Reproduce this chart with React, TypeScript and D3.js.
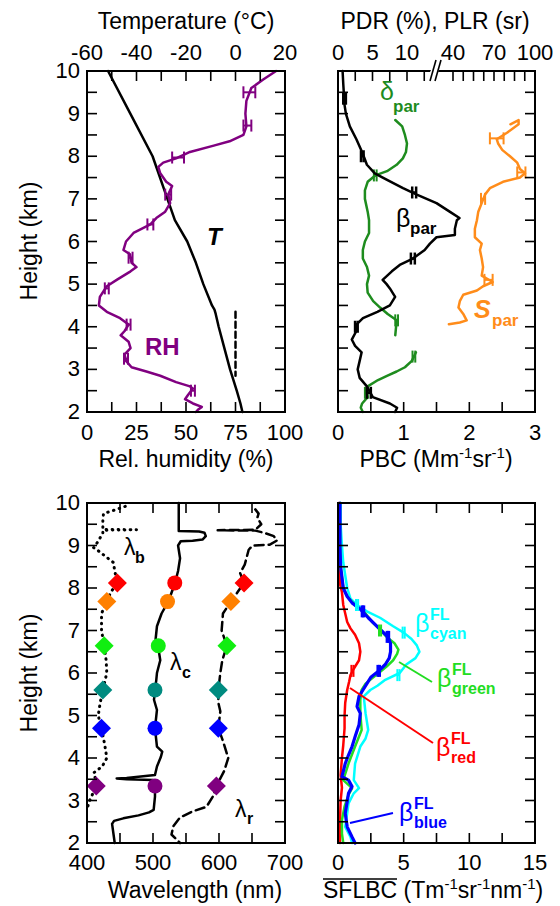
import React from 'react';
import * as d3 from 'd3';

type P = [number, number]; // [height km, value]
type E = [number, number, number]; // [height km, value, error]

const FONT = '"Liberation Sans", Arial, Helvetica, sans-serif';

// ---- top left: temperature and relative humidity
const temperature: P[] = [
  [10, -51.5], [9, -42.5], [8, -33.5], [7, -27.5], [6.5, -24.5], [6, -19.5], [5.5, -16],
  [5, -13], [4.5, -9.5], [4.4, -8.5], [4.3, -8.0], [4, -6.8], [3.5, -4.5], [3, -2.2],
  [2.5, 0.5], [2.2, 2], [2, 2.8],
];
const zeroLine: P[] = [[4.35, 0], [2.85, 0]];
const relHumidity: P[] = [
  [10, 95.5], [9.8, 89], [9.6, 83], [9.3, 80.5], [9.0, 80], [8.7, 80.5], [8.5, 79], [8.35, 72],
  [8.25, 64], [8.1, 52], [7.95, 45], [7.85, 38.5], [7.75, 36], [7.6, 37], [7.4, 40], [7.3, 43],
  [7.1, 41], [6.9, 42], [6.7, 39.5], [6.55, 35], [6.4, 32], [6.2, 23.5], [6.0, 19.7], [5.8, 18.4],
  [5.7, 21.7], [5.5, 22.5], [5.4, 25], [5.3, 22], [5.1, 15], [4.95, 10], [4.7, 6.5], [4.5, 6],
  [4.35, 10], [4.2, 16.7], [4.05, 21], [3.9, 19], [3.8, 17], [3.65, 21], [3.5, 22], [3.35, 19],
  [3.2, 19.7], [3.05, 22.5], [2.95, 30], [2.85, 37], [2.7, 45], [2.6, 52], [2.55, 53.5], [2.4, 51],
  [2.3, 49.5], [2.2, 53.5], [2.12, 58], [2.05, 56], [2.0, 55],
];
const rhErrors: E[] = [
  [9.5, 82, 3], [8.72, 81, 2], [7.97, 46, 3], [7.1, 41, 1.5], [6.4, 32, 1.5], [5.62, 22, 1],
  [4.9, 10, 1], [4.05, 21, 1], [3.25, 19.7, 1], [2.5, 53.5, 1],
];

// ---- top right: particle backscatter, depolarization, lidar ratio
const beta: P[] = [
  [10, 0.07], [9.7, 0.08], [9.2, 0.1], [9.0, 0.12], [8.7, 0.18], [8.4, 0.28], [8.05, 0.38],
  [7.8, 0.44], [7.6, 0.56], [7.45, 0.74], [7.25, 0.99], [7.1, 1.2], [6.9, 1.5], [6.7, 1.7],
  [6.55, 1.85], [6.5, 1.81], [6.3, 1.78], [6.15, 1.78], [6.1, 1.5], [5.95, 1.4], [5.8, 1.32],
  [5.6, 1.14], [5.45, 0.94], [5.3, 0.82], [5.1, 0.68], [5.0, 0.74], [4.9, 0.79], [4.7, 0.87],
  [4.5, 0.79], [4.35, 0.6], [4.2, 0.38], [4.05, 0.28], [3.9, 0.28], [3.7, 0.21], [3.55, 0.26],
  [3.4, 0.36], [3.2, 0.33], [3.0, 0.3], [2.8, 0.33], [2.6, 0.44], [2.35, 0.53], [2.2, 0.79],
  [2.1, 0.9], [2.0, 0.87],
];
const betaErrors: E[] = [
  [9.35, 0.1, 0.02], [8.0, 0.37, 0.02], [7.15, 1.16, 0.03], [5.6, 1.14, 0.03], [4.0, 0.28, 0.02],
  [2.45, 0.47, 0.03],
];
const deltaUpper: P[] = [
  [8.85, 8.3], [8.7, 9.3], [8.5, 9.7], [8.3, 10], [8.1, 9.85], [7.95, 9.4], [7.8, 8.5], [7.65, 7.1],
  [7.55, 5.4], [7.4, 4.3], [7.2, 3.9], [7.0, 3.9], [6.7, 4.3], [6.5, 4.5], [6.2, 4.5], [6.0, 3.9],
  [5.8, 3.6], [5.6, 3.6], [5.4, 4.2], [5.2, 4.5], [5.0, 4.2], [4.8, 4.3], [4.6, 5.1], [4.45, 6.1],
  [4.3, 7.2], [4.15, 8.5], [3.8, 8.3],
];
const deltaLower: P[] = [
  [3.4, 11.3], [3.3, 11.0], [3.2, 10.7], [3.05, 9.7], [2.95, 8.5], [2.85, 7.1], [2.75, 5.8],
  [2.6, 4.3], [2.5, 4.0], [2.35, 4.3], [2.2, 3.5], [2.1, 3.3], [2.0, 3.6],
];
const deltaErrors: E[] = [[7.55, 5.4, 0.2], [4.15, 8.5, 0.2], [3.3, 11.0, 0.2], [2.45, 4.1, 0.2]];
const lidarRatio: P[] = [
  [8.75, 82], [8.85, 88], [8.75, 88], [8.55, 79.5], [8.4, 72], [8.3, 73], [8.15, 76], [8.0, 81.7],
  [7.85, 87], [7.7, 89], [7.6, 92.7], [7.5, 89], [7.4, 76.6], [7.25, 67], [7.1, 63.4], [6.9, 61],
  [6.7, 58.5], [6.5, 57.5], [6.3, 56], [6.1, 56], [5.95, 61], [5.8, 59.7], [5.6, 61], [5.4, 62],
  [5.2, 61], [5.05, 69], [4.95, 62], [4.85, 57.5], [4.75, 47.5], [4.6, 45], [4.45, 44], [4.3, 47.5],
  [4.15, 50], [4.1, 45], [4.06, 37],
];
const lidarErrors: E[] = [[8.42, 72, 5], [7.62, 90, 3], [7.0, 62, 1.5], [5.1, 66, 3]];

// ---- bottom left: wavelengths
const lambdaB: P[] = [
  [9.92, 458], [9.85, 445], [9.75, 425], [9.6, 424], [9.38, 424], [9.37, 475], [9.36, 424],
  [9.3, 424], [9.1, 417], [8.95, 410], [8.9, 415], [8.6, 440], [8.4, 442], [8.12, 446], [7.9, 436],
  [7.68, 430], [7.4, 422], [7.0, 422], [6.64, 426], [6.3, 429], [6.0, 430], [5.6, 424], [5.3, 420],
  [5.0, 417], [4.7, 422], [4.3, 427], [4.0, 430], [3.8, 423], [3.65, 410], [3.5, 413], [3.34, 414],
  [3.0, 404], [2.8, 400],
];
const lambdaC: P[] = [
  [10, 539], [9.34, 539], [9.33, 570], [9.3, 578], [9.22, 580], [9.14, 575], [9.11, 560],
  [9.1, 542], [9.0, 538], [8.7, 541], [8.4, 538], [8.1, 533], [7.8, 526], [7.65, 522], [7.4, 513],
  [7.1, 506], [6.8, 504], [6.6, 508], [6.3, 511], [6.0, 506], [5.84, 505], [5.6, 503],
  [5.37, 501.5], [5.13, 506], [4.7, 503], [4.27, 506], [4.15, 514], [4.03, 512], [3.8, 506],
  [3.6, 503], [3.53, 460], [3.52, 445], [3.5, 460], [3.48, 500], [3.34, 503], [3.09, 503],
  [2.78, 501], [2.72, 494], [2.65, 478], [2.58, 455], [2.52, 441], [2.45, 438], [2.0, 442],
];
const lambdaR: P[] = [
  [9.85, 655], [9.75, 660], [9.65, 658], [9.5, 664], [9.37, 655], [9.36, 598], [9.35, 655],
  [9.3, 668], [9.22, 683], [9.12, 688], [9.02, 677], [9.0, 651], [8.9, 645], [8.55, 639], [8.35, 632],
  [8.12, 638], [7.9, 628], [7.68, 618], [7.4, 606], [7.0, 604], [6.64, 612], [6.3, 605], [6.0, 602],
  [5.6, 599], [5.3, 599], [5.1, 602], [4.7, 599], [4.4, 606], [4.0, 614], [3.7, 608], [3.34, 596],
  [3.1, 591], [2.85, 581], [2.75, 561], [2.6, 541], [2.4, 531], [2.2, 528], [2.0, 541],
];
const markerHeights = [8.12, 7.68, 6.64, 5.6, 4.7, 3.34];
const markerColors = ['#ff0000', '#ff8000', '#11ee11', '#008b80', '#0000ff', '#800080'];
const markerBlueNm = [446, 430, 426, 424, 422, 414];
const markerCentreNm = [533, 522, 508, 503, 503, 503];
const markerRedNm = [638, 618, 612, 599, 599, 596];

// ---- bottom right: spectral fluorescence backscatter
const flCyan: P[] = [
  [10, 0.2], [9.5, 0.2], [9.0, 0.3], [8.6, 0.4], [8.3, 0.55], [8.0, 0.7], [7.75, 0.95], [7.6, 1.45],
  [7.45, 2.2], [7.3, 3.2], [7.1, 4.2], [6.95, 5.0], [6.8, 5.6], [6.65, 6.0], [6.5, 6.2], [6.35, 5.9],
  [6.2, 5.2], [6.0, 4.7], [5.84, 3.6], [5.7, 3.0], [5.6, 2.46], [5.45, 1.96], [5.05, 2.1],
  [4.66, 2.3], [4.46, 2.1], [4.27, 1.7], [3.87, 1.3], [3.48, 1.2], [3.29, 1.6], [3.17, 1.2],
  [2.93, 0.8], [2.7, 0.7], [2.38, 0.55], [2.14, 0.95], [2.0, 1.07],
];
const flGreen: P[] = [
  [10, 0.15], [9.0, 0.15], [8.5, 0.2], [8.0, 0.4], [7.8, 0.7], [7.6, 1.3], [7.4, 2.1], [7.2, 2.6],
  [7.05, 3.1], [6.85, 3.7], [6.7, 4.3], [6.55, 4.6], [6.45, 4.5], [6.3, 4.2], [6.15, 3.7], [6.0, 3.1],
  [5.85, 2.5], [5.75, 2.1], [5.6, 1.8], [5.37, 1.7], [5.05, 1.7], [4.66, 1.8], [4.27, 1.3],
  [3.87, 0.8], [3.48, 0.4], [3.29, 1.07], [3.13, 0.8], [2.86, 0.5], [2.54, 0.3], [2.22, 0.3],
  [2.0, 0.4],
];
const flBlue: P[] = [
  [10, 0.15], [9.0, 0.15], [8.5, 0.2], [8.0, 0.4], [7.8, 0.7], [7.65, 1.07], [7.5, 1.7], [7.3, 2.3],
  [7.15, 2.8], [7.0, 3.3], [6.85, 3.8], [6.7, 4.0], [6.5, 4.0], [6.35, 3.9], [6.2, 3.6], [6.05, 3.1],
  [5.9, 2.5], [5.75, 2.2], [5.6, 1.9], [5.45, 1.6], [5.21, 1.45], [5.05, 1.7], [4.78, 1.6],
  [4.5, 1.3], [4.27, 1.07], [4.07, 0.8], [3.87, 0.55], [3.56, 0.3], [3.48, 0.8], [3.33, 1.07],
  [3.17, 0.8], [2.97, 0.7], [2.7, 0.55], [2.38, 0.7], [2.14, 1.07], [2.0, 1.3],
];
const flRed: P[] = [
  [10, 0.05], [8.5, 0.1], [8.1, 0.15], [7.9, 0.3], [7.6, 0.4], [7.4, 0.55], [7.2, 0.7], [7.05, 0.95],
  [6.9, 1.3], [6.7, 1.6], [6.5, 1.7], [6.3, 1.6], [6.1, 1.2], [5.95, 0.95], [5.8, 0.85], [5.6, 0.7],
  [5.3, 0.55], [5.0, 0.5], [4.7, 0.5], [4.3, 0.4], [4.0, 0.3], [3.6, 0.2], [3.3, 0.3], [3.0, 0.2],
  [2.5, 0.15], [2.0, 0.15],
];
const flCyanErr: E[] = [[7.6, 1.45, 0.08], [6.95, 5.0, 0.08], [5.95, 4.6, 0.08]];
const flBlueErr: E[] = [[7.45, 1.9, 0.06], [6.85, 3.8, 0.06], [6.05, 3.1, 0.06]];
const flGreenErr: E[] = [[7.0, 3.2, 0.08]];
const flRedErr: E[] = [[6.05, 1.1, 0.08]];

// ---- ticks
const heightTicks = [2, 2.5, 3, 3.5, 4, 4.5, 5, 5.5, 6, 6.5, 7, 7.5, 8, 8.5, 9, 9.5, 10];
const heightLabels = [2, 3, 4, 5, 6, 7, 8, 9, 10];
const tempTicks = [-60, -50, -40, -30, -20, -10, 0, 10, 20];
const tempLabels = [-60, -40, -20, 0, 20];
const rhTicks = [0, 12.5, 25, 37.5, 50, 62.5, 75, 87.5, 100];
const rhLabels = [0, 25, 50, 75, 100];
const pdrTicks = [0, 2.5, 5, 7.5, 10, 12.5];
const pdrLabels = [0, 5, 10];
const plrTicks = [40, 47.5, 55, 62.5, 70, 77.5, 85, 92.5, 100];
const plrLabels = [40, 70, 100];
const pbcTicks = [0, 0.5, 1, 1.5, 2, 2.5, 3];
const pbcLabels = [0, 1, 2, 3];
const wlTicks = [400, 450, 500, 550, 600, 650, 700];
const wlLabels = [400, 500, 600, 700];
const flTicks = [0, 2.5, 5, 7.5, 10, 12.5, 15];
const flLabels = [0, 5, 10, 15];

const yTop = d3.scaleLinear().domain([2, 10]).range([412, 71]);
const yBot = d3.scaleLinear().domain([2, 10]).range([843, 503]);
const xTemp = d3.scaleLinear().domain([-60, 20]).range([87, 285]);
const xRH = d3.scaleLinear().domain([0, 100]).range([87, 285]);
const xPBC = d3.scaleLinear().domain([0, 3]).range([338, 535]);
const xPDR = d3.scaleLinear().domain([0, 10]).range([338, 407]);
const xPLR = d3.scaleLinear().domain([40, 100]).range([453, 535]);
const xWL = d3.scaleLinear().domain([400, 700]).range([87, 285]);
const xFL = d3.scaleLinear().domain([0, 15]).range([338, 535]);

type S = d3.ScaleLinear<number, number>;
const TICK = 10;

const path = (xs: S, ys: S, data: P[]) =>
  d3.line<P>().x(d => xs(d[1])).y(d => ys(d[0]))(data) || '';

function Curve({ xs, ys, data, color, width = 2.5, dash }: { xs: S; ys: S; data: P[]; color: string; width?: number; dash?: string }) {
  return (
    <path d={path(xs, ys, data)} fill="none" stroke={color} strokeWidth={width}
      strokeLinejoin="round" strokeLinecap="round" strokeDasharray={dash} />
  );
}

function ErrBars({ xs, ys, data, color, width = 2, cap = 6 }: { xs: S; ys: S; data: E[]; color: string; width?: number; cap?: number }) {
  return (
    <g stroke={color} strokeWidth={width} fill="none">
      {data.map(([h, v, e], i) => {
        const y = ys(h), a = xs(v - e), b = xs(v + e);
        return (
          <g key={i}>
            <line x1={a} x2={b} y1={y} y2={y} />
            <line x1={a} x2={a} y1={y - cap} y2={y + cap} />
            <line x1={b} x2={b} y1={y - cap} y2={y + cap} />
          </g>
        );
      })}
    </g>
  );
}

function XTicks({ xs, vals, y, dir }: { xs: S; vals: number[]; y: number; dir: number }) {
  return <>{vals.map(v => <line key={v} x1={xs(v)} x2={xs(v)} y1={y} y2={y + dir * TICK} stroke="#000" strokeWidth={1.6} />)}</>;
}

function YTicks({ ys, x0, x1 }: { ys: S; x0: number; x1: number }) {
  return (
    <>
      {heightTicks.map(v => (
        <g key={v} stroke="#000" strokeWidth={1.6}>
          <line x1={x0} x2={x0 + TICK} y1={ys(v)} y2={ys(v)} />
          <line x1={x1} x2={x1 - TICK} y1={ys(v)} y2={ys(v)} />
        </g>
      ))}
    </>
  );
}

function Txt({ x, y, children, size = 22, anchor = 'middle', weight = 'normal', italic = false, fill = '#000', rotate }:
  { x: number; y: number; children: React.ReactNode; size?: number; anchor?: string; weight?: string; italic?: boolean; fill?: string; rotate?: boolean }) {
  return (
    <text x={x} y={y} fontSize={size} textAnchor={anchor} fontWeight={weight} fontStyle={italic ? 'italic' : 'normal'}
      fill={fill} fontFamily={FONT} transform={rotate ? `rotate(-90 ${x} ${y})` : undefined}>
      {children}
    </text>
  );
}

function XLabels({ xs, vals, y }: { xs: S; vals: number[]; y: number }) {
  return <>{vals.map(v => <Txt key={v} x={xs(v)} y={y}>{v}</Txt>)}</>;
}

function YLabels({ ys }: { ys: S }) {
  return <>{heightLabels.map(v => <Txt key={v} x={80} y={ys(v) + 7} anchor="end">{v}</Txt>)}</>;
}

// unit text with "-1" superscripts: parts alternate base text / superscript
function UnitText({ x, y, parts, anchor = 'middle' }: { x: number; y: number; parts: string[]; anchor?: string }) {
  return (
    <text x={x} y={y} fontSize={23} textAnchor={anchor} fontFamily={FONT} fill="#000">
      {parts.map((p, i) =>
        i % 2 === 1
          ? <tspan key={i} dy={-9} fontSize={15}>{p}</tspan>
          : <tspan key={i} dy={i === 0 ? 0 : 9}>{p}</tspan>
      )}
    </text>
  );
}

function Beta({ x, y, sup, sub, fill }: { x: number; y: number; sup: string; sub: string; fill: string }) {
  return (
    <g fill={fill} fontFamily={FONT}>
      <text x={x} y={y} fontSize={25}>β</text>
      <text x={x + 15} y={y - 12} fontSize={16} fontWeight="bold">{sup}</text>
      <text x={x + 15} y={y + 7} fontSize={16} fontWeight="bold">{sub}</text>
    </g>
  );
}

function Frame({ x0, x1, y0, y1 }: { x0: number; x1: number; y0: number; y1: number }) {
  return <rect x={x0} y={y0} width={x1 - x0} height={y1 - y0} fill="none" stroke="#000" strokeWidth={2} />;
}

function diamond(x: number, y: number, r: number) {
  return `M${x},${y - r}L${x + r},${y}L${x},${y + r}L${x - r},${y}Z`;
}

export default function App() {
  return (
    <svg width={560} height={906} style={{ position: 'absolute', left: 0, top: 0, background: '#fff' }}>
      {/* ---------- top left ---------- */}
      <Curve xs={xTemp} ys={yTop} data={zeroLine} color="#000" dash="6 4" />
      <Curve xs={xTemp} ys={yTop} data={temperature} color="#000" />
      <Curve xs={xRH} ys={yTop} data={relHumidity} color="#800080" />
      <ErrBars xs={xRH} ys={yTop} data={rhErrors} color="#800080" />
      <Txt x={207} y={245} size={24} weight="bold" italic anchor="start">T</Txt>
      <Txt x={145} y={355} size={24} weight="bold" fill="#800080" anchor="start">RH</Txt>
      <Frame x0={87} x1={285} y0={71} y1={412} />
      <XTicks xs={xTemp} vals={tempTicks} y={71} dir={1} />
      <XTicks xs={xRH} vals={rhTicks} y={412} dir={-1} />
      <YTicks ys={yTop} x0={87} x1={285} />
      <XLabels xs={xTemp} vals={tempLabels} y={60} />
      <XLabels xs={xRH} vals={rhLabels} y={440} />
      <YLabels ys={yTop} />
      <Txt x={186} y={29} size={23}>Temperature (°C)</Txt>
      <Txt x={186} y={467} size={23}>Rel. humidity (%)</Txt>
      <Txt x={37} y={241} size={23} rotate>Height (km)</Txt>

      {/* ---------- top right ---------- */}
      <Curve xs={xPDR} ys={yTop} data={deltaUpper} color="#1e8c1e" />
      <Curve xs={xPDR} ys={yTop} data={deltaLower} color="#1e8c1e" />
      <ErrBars xs={xPDR} ys={yTop} data={deltaErrors} color="#1e8c1e" />
      <Curve xs={xPBC} ys={yTop} data={beta} color="#000" />
      <ErrBars xs={xPBC} ys={yTop} data={betaErrors} color="#000" width={2.5} />
      <Curve xs={xPLR} ys={yTop} data={lidarRatio} color="#ff8c1a" />
      <ErrBars xs={xPLR} ys={yTop} data={lidarErrors} color="#ff8c1a" />
      <g fontFamily={FONT}>
        <text x={380} y={100} fontSize={25} fill="#1e8c1e">δ</text>
        <text x={393} y={112} fontSize={17} fontWeight="bold" fill="#1e8c1e">par</text>
        <text x={396} y={227} fontSize={25} fill="#000">β</text>
        <text x={410} y={234} fontSize={17} fontWeight="bold" fill="#000">par</text>
        <text x={474} y={318} fontSize={25} fontWeight="bold" fontStyle="italic" fill="#ff8c1a">S</text>
        <text x={492} y={326} fontSize={17} fontWeight="bold" fill="#ff8c1a">par</text>
      </g>
      <Frame x0={338} x1={535} y0={71} y1={412} />
      <XTicks xs={xPDR} vals={pdrTicks} y={71} dir={1} />
      <XTicks xs={xPLR} vals={plrTicks} y={71} dir={1} />
      <XTicks xs={xPBC} vals={pbcTicks} y={412} dir={-1} />
      <YTicks ys={yTop} x0={338} x1={535} />
      <polygon points="432,68 440,68 437,74 429,74" fill="#fff" />
      <g stroke="#000" strokeWidth={1.6}>
        <line x1={430} y1={81} x2={436} y2={60} />
        <line x1={435} y1={81} x2={441} y2={60} />
      </g>
      <XLabels xs={xPDR} vals={pdrLabels} y={60} />
      <XLabels xs={xPLR} vals={plrLabels} y={60} />
      <XLabels xs={xPBC} vals={pbcLabels} y={440} />
      <Txt x={435} y={29} size={23}>PDR (%), PLR (sr)</Txt>
      <UnitText x={436} y={467} parts={['PBC (Mm', '-1', 'sr', '-1', ')']} />

      {/* ---------- bottom left ---------- */}
      <Curve xs={xWL} ys={yBot} data={lambdaB} color="#000" width={3} dash="0.5 5.5" />
      <Curve xs={xWL} ys={yBot} data={lambdaR} color="#000" width={2.5} dash="9 5" />
      <Curve xs={xWL} ys={yBot} data={lambdaC} color="#000" width={2.5} />
      {markerHeights.map((h, i) => (
        <g key={h} fill={markerColors[i]}>
          <path d={diamond(xWL(markerBlueNm[i]), yBot(h), 9.5)} />
          <circle cx={xWL(markerCentreNm[i])} cy={yBot(h)} r={7.5} />
          <path d={diamond(xWL(markerRedNm[i]), yBot(h), 9.5)} />
        </g>
      ))}
      <g fontFamily={FONT}>
        <text x={124} y={555} fontSize={23}>λ</text>
        <text x={135} y={563} fontSize={16} fontWeight="bold">b</text>
        <text x={170} y={670} fontSize={23}>λ</text>
        <text x={182} y={678} fontSize={16} fontWeight="bold">c</text>
        <text x={235} y={817} fontSize={23}>λ</text>
        <text x={247} y={824} fontSize={16} fontWeight="bold">r</text>
      </g>
      <Frame x0={87} x1={285} y0={503} y1={843} />
      <XTicks xs={xWL} vals={wlTicks} y={503} dir={1} />
      <XTicks xs={xWL} vals={wlTicks} y={843} dir={-1} />
      <YTicks ys={yBot} x0={87} x1={285} />
      <XLabels xs={xWL} vals={wlLabels} y={870} />
      <YLabels ys={yBot} />
      <Txt x={195} y={898} size={23}>Wavelength (nm)</Txt>
      <Txt x={37} y={673} size={23} rotate>Height (km)</Txt>

      {/* ---------- bottom right ---------- */}
      <Curve xs={xFL} ys={yBot} data={flRed} color="#ff0000" />
      <Curve xs={xFL} ys={yBot} data={flCyan} color="#00ffff" />
      <Curve xs={xFL} ys={yBot} data={flGreen} color="#22dd22" />
      <Curve xs={xFL} ys={yBot} data={flBlue} color="#0000ff" width={3.2} />
      <ErrBars xs={xFL} ys={yBot} data={flRedErr} color="#ff0000" />
      <ErrBars xs={xFL} ys={yBot} data={flCyanErr} color="#00ffff" />
      <ErrBars xs={xFL} ys={yBot} data={flGreenErr} color="#22dd22" />
      <ErrBars xs={xFL} ys={yBot} data={flBlueErr} color="#0000ff" width={3} />
      <g strokeWidth={2}>
        <line x1={399} y1={662} x2={432} y2={682} stroke="#22dd22" />
        <line x1={350} y1={688} x2={433} y2={743} stroke="#ff0000" />
        <line x1={350} y1={823} x2={393} y2={813} stroke="#0000ff" />
      </g>
      <Beta x={415} y={632} sup="FL" sub="cyan" fill="#00ffff" />
      <Beta x={437} y={687} sup="FL" sub="green" fill="#22dd22" />
      <Beta x={436} y={756} sup="FL" sub="red" fill="#ff0000" />
      <Beta x={399} y={821} sup="FL" sub="blue" fill="#0000ff" />
      <Frame x0={338} x1={535} y0={503} y1={843} />
      <XTicks xs={xFL} vals={flTicks} y={503} dir={1} />
      <XTicks xs={xFL} vals={flTicks} y={843} dir={-1} />
      <YTicks ys={yBot} x0={338} x1={535} />
      <XLabels xs={xFL} vals={flLabels} y={870} />
      <line x1={323} x2={397} y1={879} y2={879} stroke="#000" strokeWidth={1.5} />
      <UnitText x={323} y={898} anchor="start" parts={['SFLBC (Tm', '-1', 'sr', '-1', 'nm', '-1', ')']} />
    </svg>
  );
}
